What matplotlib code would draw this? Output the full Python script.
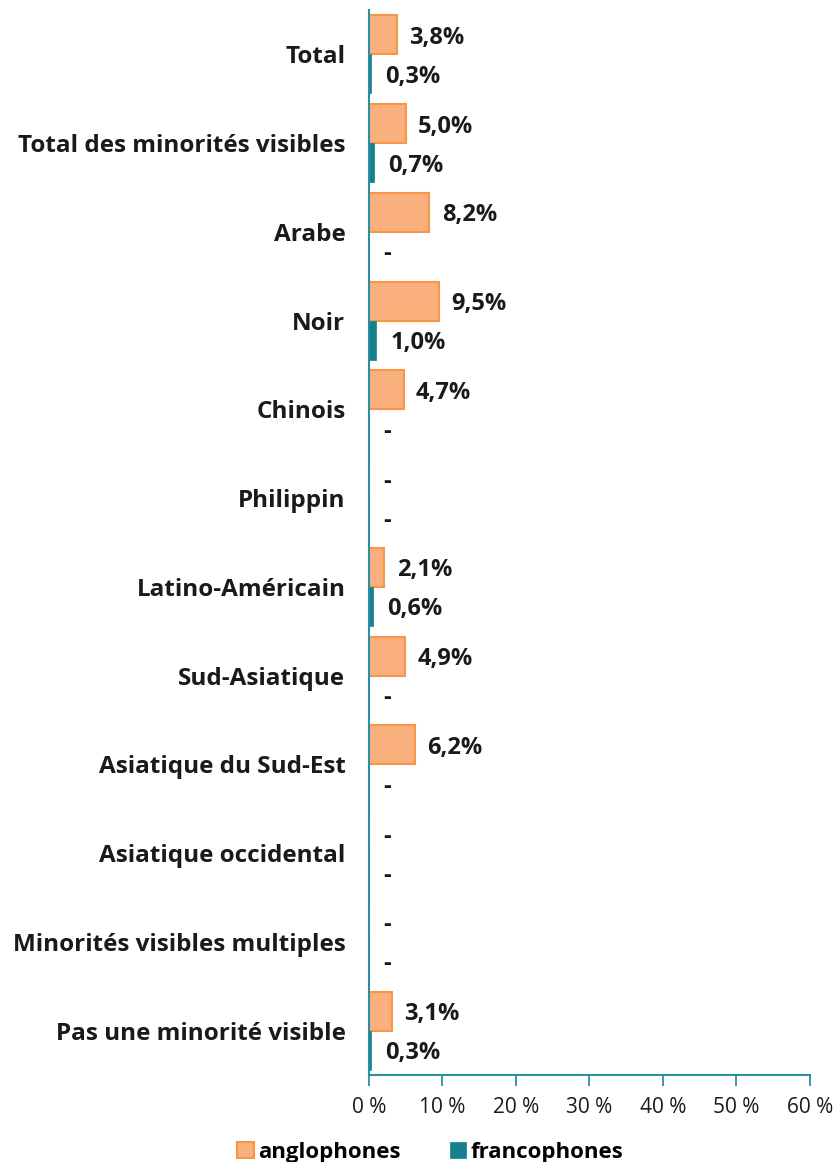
import numpy as np
import matplotlib.pyplot as plt

plt.rcParams['font.family'] = ['Open Sans', 'DejaVu Sans']

categories = ["Total", "Total des minorités visibles", "Arabe", "Noir", "Chinois",
              "Philippin", "Latino-Américain", "Sud-Asiatique", "Asiatique du Sud-Est",
              "Asiatique occidental", "Minorités visibles multiples",
              "Pas une minorité visible"]
anglophones = [3.8, 5.0, 8.2, 9.5, 4.7, None, 2.1, 4.9, 6.2, None, None, 3.1]
francophones = [0.3, 0.7, None, 1.0, None, None, 0.6, None, None, None, None, 0.3]
xticks = [0, 10, 20, 30, 40, 50, 60]

ORANGE = "#FAB07C"
ORANGE_EDGE = "#F79646"
TEAL = "#17808F"
AXIS = "#2C8EA0"

fig = plt.figure(figsize=(8.39, 11.62), dpi=100)
ax = fig.add_axes([0.4398, 0.0749, 0.5256, 0.9165])

y = np.arange(len(categories))
h = 0.44
a_vals = [v if v is not None else 0 for v in anglophones]
f_vals = [v if v is not None else 0 for v in francophones]

ax.barh(y - h / 2, a_vals, height=h, color=ORANGE, edgecolor=ORANGE_EDGE,
        linewidth=1.5, label="anglophones")
ax.barh(y + h / 2, f_vals, height=h, color=TEAL, edgecolor=TEAL,
        linewidth=0.5, label="francophones")

def etiquette(v):
    if v is None:
        return "-"
    return f"{v:.1f}%".replace(".", ",")

for i in range(len(categories)):
    va = anglophones[i]
    vf = francophones[i]
    xa = va + 1.7 if va is not None else 2.0
    xf = vf + 1.9 if vf is not None else 2.0
    ax.text(xa, y[i] - h / 2, etiquette(va), va="center_baseline", ha="left",
            fontsize=17, fontweight="bold", color="#1a1a1a")
    ax.text(xf, y[i] + h / 2, etiquette(vf), va="center_baseline", ha="left",
            fontsize=17, fontweight="bold", color="#1a1a1a")

ax.set_xlim(0, 60)
ax.set_ylim(len(categories) - 0.5, -0.5)
ax.set_xticks(xticks)
ax.set_xticklabels([f"{t} %" for t in xticks], fontsize=15, color="#1a1a1a")
ax.set_yticks(y)
ax.set_yticklabels(categories, fontsize=17.5, fontweight="bold", color="#1a1a1a")
ax.tick_params(axis="y", length=0, pad=17)
ax.tick_params(axis="x", direction="out", length=8, width=1.3, color=AXIS, pad=8)

for s in ["top", "right"]:
    ax.spines[s].set_visible(False)
for s in ["left", "bottom"]:
    ax.spines[s].set_color(AXIS)
    ax.spines[s].set_linewidth(1.5)

fig.legend(loc="lower center", bbox_to_anchor=(0.513, -0.018), ncol=2, frameon=False,
           handlelength=0.75, handleheight=0.75, handletextpad=0.2,
           columnspacing=2.2, prop={"weight": "bold", "size": 16})

fig.savefig("out.png", dpi=100)
